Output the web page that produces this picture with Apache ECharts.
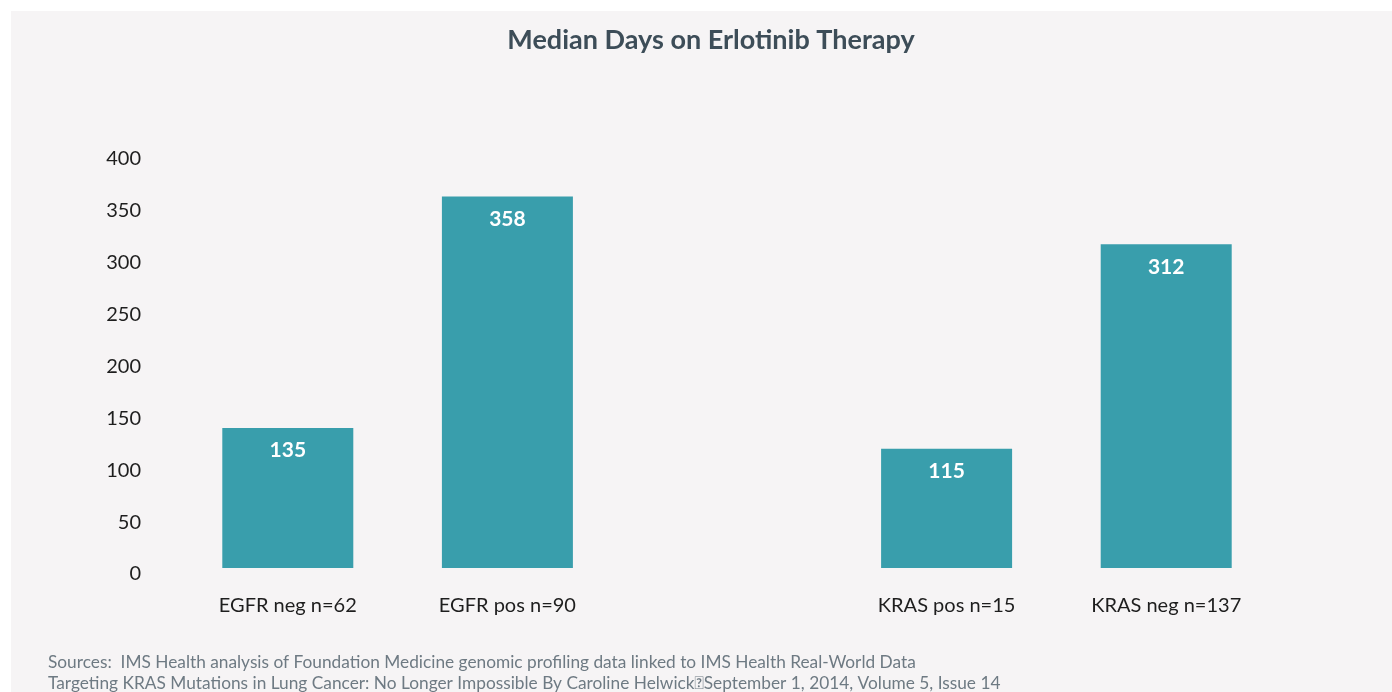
<!DOCTYPE html>
<html>
<head>
<meta charset="utf-8">
<script src="https://cdn.jsdelivr.net/npm/echarts@6/dist/echarts.min.js"></script>
<style>
  html, body { margin: 0; padding: 0; background: #fff; }
  #chart { width: 1392px; height: 692px; }
</style>
</head>
<body>
<div id="chart"></div>
<script>
  // categories (middle slot left empty as a gap between the EGFR and KRAS groups)
  const categories = ['EGFR neg n=62', 'EGFR pos n=90', '', 'KRAS pos n=15', 'KRAS neg n=137'];
  const medianDays = [135, 358, null, 115, 312];
  const yTicks = { min: 0, max: 400, step: 50 };
  const titleText = 'Median Days on Erlotinib Therapy';
  const sourceLines = [
    'Sources:  IMS Health analysis of Foundation Medicine genomic profiling data linked to IMS Health Real-World Data',
    'Targeting KRAS Mutations in Lung Cancer: No Longer Impossible By Caroline Helwick\uF0A7September 1, 2014, Volume 5, Issue 14'
  ];

  const FONT = 'Lato, "Noto Sans", sans-serif';
  const BAR = '#399eac';

  const chart = echarts.init(document.getElementById('chart'), null, { renderer: 'canvas' });
  chart.setOption({
    backgroundColor: '#ffffff',
    animation: false,
    title: {
      text: titleText,
      left: 706, top: 22, textAlign: 'center',
      textStyle: { color: '#3d4d58', fontFamily: FONT, fontSize: 27, fontWeight: 'bold' }
    },
    graphic: [
      { type: 'rect', z: -10, silent: true, shape: { x: 11, y: 11, width: 1381, height: 681 }, style: { fill: '#f6f4f5' } },
      { type: 'text', left: 48, top: 652, silent: true,
        style: { text: sourceLines.join('\n'), fill: '#6e7a83', font: '17.3px ' + FONT, lineHeight: 21 } }
    ],
    grid: { left: 178, right: 116, top: 153, bottom: 124 },
    xAxis: {
      type: 'category', data: categories,
      axisLine: { show: false }, axisTick: { show: false },
      axisLabel: { color: '#1e1e1e', fontFamily: FONT, fontSize: 20, margin: 28 }
    },
    yAxis: {
      type: 'value', min: yTicks.min, max: yTicks.max, interval: yTicks.step,
      axisLine: { show: false }, axisTick: { show: false }, splitLine: { show: false },
      axisLabel: { color: '#1e1e1e', fontFamily: FONT, fontSize: 20, margin: 37, verticalAlign: 'top', lineHeight: 12 }
    },
    series: [{
      type: 'bar', data: medianDays, barWidth: 131,
      itemStyle: { color: BAR },
      label: {
        show: true, position: 'insideTop', distance: 12,
        color: '#ffffff', fontFamily: FONT, fontSize: 21, fontWeight: 'bold'
      }
    }]
  });
</script>
</body>
</html>
